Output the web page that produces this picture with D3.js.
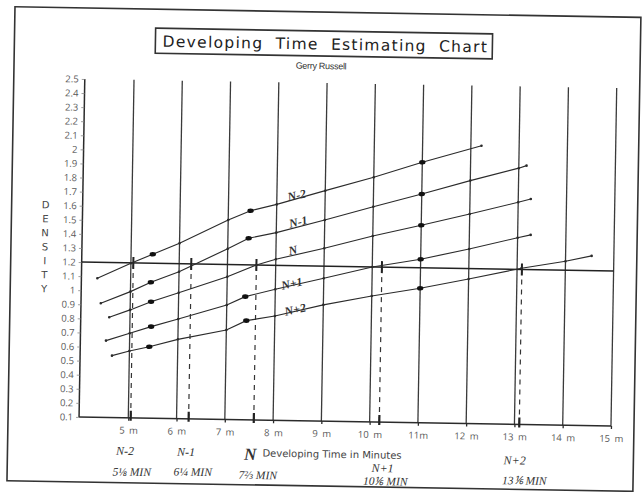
<!DOCTYPE html>
<html><head><meta charset="utf-8">
<script src="https://cdn.jsdelivr.net/npm/d3@7"></script>
<style>html,body{margin:0;padding:0;background:#fff;} svg{display:block}</style>
</head><body>
<svg id="c" width="642" height="492"></svg>
<script>
// ---------- data ----------
const minutes = [5, 6, 7, 8, 9, 10, 11, 12, 13, 14, 15];
const minuteLabels = ["5 m", "6 m", "7 m", "8 m", "9 m", "10 m", "11m", "12 m", "13 m", "14 m", "15 m"];
const densityTicks = [0.1,0.2,0.3,0.4,0.5,0.6,0.7,0.8,0.9,1.0,1.1,1.2,1.3,1.4,1.5,1.6,1.7,1.8,1.9,2.0,2.1,2.2,2.3,2.4,2.5];
const densityLabels = ["0.1","0.2","0.3","0.4","0.5","0.6","0.7","0.8","0.9","1","1.1","1.2","1.3","1.4","1.5","1.6","1.7","1.8","1.9","2","2.1","2.2","2.3","2.4","2.5"];
const seriesNames = ["N-2", "N-1", "N", "N+1", "N+2"];

const lineNm2 = [[4.31,1.087],[5,1.197],[5.45,1.264],[6,1.345],[7,1.516],[7.46,1.585],[8,1.633],[9,1.736],[10,1.837],[11,1.949],[12.22,2.074]];
const lineNm1 = [[4.39,0.91],[5,0.996],[5.42,1.065],[6,1.143],[7,1.312],[7.43,1.389],[8,1.432],[9,1.528],[10,1.628],[11,1.724],[12,1.825],[13,1.919],[13.16,1.938]];
const lineN   = [[4.57,0.811],[5,0.866],[5.43,0.927],[6,0.994],[7,1.113],[7.6,1.2],[8,1.243],[9,1.327],[10,1.42],[11,1.502],[12,1.588],[13,1.677],[13.26,1.702]];
const lineNp1 = [[4.51,0.645],[5,0.70],[5.44,0.75],[6,0.807],[7,0.912],[7.38,0.974],[8,1.03],[9,1.114],[10,1.2],[11,1.261],[12,1.339],[13,1.425],[13.27,1.447]];
const lineNp2 = [[4.64,0.539],[5,0.574],[5.41,0.607],[6,0.663],[7,0.735],[7.41,0.804],[8,0.84],[9,0.925],[10,0.994],[11,1.055],[12,1.126],[13.09,1.209],[14,1.264],[14.54,1.305]];

const keyNm2 = [[5.45,1.264],[7.46,1.585],[11,1.949]];
const keyNm1 = [[5.42,1.065],[7.43,1.389],[11,1.724]];
const keyN   = [[5.43,0.927],[11,1.502]];
const keyNp1 = [[5.44,0.75],[7.38,0.974],[11,1.261]];
const keyNp2 = [[5.41,0.607],[7.41,0.804],[11,1.055]];

const labelPos = [[8.41,1.702],[8.45,1.513],[8.35,1.311],[8.34,1.074],[8.42,0.890]];

const targetDensity = 1.2;
const crossMinutes = [5.05, 6.25, 7.6, 10.2, 13.1];
const crossNames = ["N-2", "N-1", "N", "N+1", "N+2"];
const crossTimes = ["5⅛ MIN", "6¼ MIN", "7⅔ MIN", "10⅙ MIN", "13⅙ MIN"];

const titleText = "Developing Time Estimating Chart";
const subtitleText = "Gerry Russell";
const xTitle = "Developing Time in Minutes";
const yTitle = "DENSITY";

// ---------- drawing ----------
const svg = d3.select("#c");
svg.append("rect").attr("width", 642).attr("height", 492).attr("fill", "#ffffff");
const g = svg.append("g").attr("transform", "rotate(0.97,320,245)");

const x = d3.scaleLinear().domain([3.98, 15]).range([82, 614]);
const y = d3.scaleLinear().domain([0.1, 2.5]).range([421, 83]);
const ink = "#2b2b2b";
const grey = "#5a5a5a";

// outer frame
g.append("rect").attr("x", 11).attr("y", 12).attr("width", 626).attr("height", 474)
  .attr("fill", "none").attr("stroke", "#333").attr("stroke-width", 1.6);

// title box
g.append("rect").attr("x", 152).attr("y", 31).attr("width", 337).attr("height", 25)
  .attr("fill", "none").attr("stroke", "#333").attr("stroke-width", 1.6);
g.append("text").attr("x", 322).attr("y", 49.5).attr("text-anchor", "middle")
  .attr("font-family", "DejaVu Sans, sans-serif").attr("font-size", 15.5)
  .attr("letter-spacing", 1.3).attr("word-spacing", 6).attr("fill", "#222").text(titleText);
g.append("text").attr("x", 318).attr("y", 69).attr("text-anchor", "middle")
  .attr("font-family", "Liberation Sans, Arial, sans-serif").attr("font-size", 9)
  .attr("letter-spacing", -0.3).attr("fill", "#333").text(subtitleText);

// vertical grid lines
g.append("g").selectAll("line").data(minutes).join("line")
  .attr("x1", d => x(d)).attr("x2", d => x(d))
  .attr("y1", y(2.5)).attr("y2", y(0.1))
  .attr("stroke", "#3a3a3a").attr("stroke-width", 1.3);

// y axis
const yAxis = d3.axisLeft(y).tickValues(densityTicks).tickSize(3)
  .tickFormat((d, i) => densityLabels[i]);
const ya = g.append("g").attr("transform", `translate(${x(3.98)},0)`).call(yAxis);
ya.select(".domain").attr("stroke", ink).attr("stroke-width", 1.5).attr("d", `M0,${y(2.5)}V${y(0.1)}`);
ya.selectAll(".tick line").attr("stroke", "#888").attr("stroke-width", 0.8);
ya.selectAll(".tick text").attr("font-family", "Open Sans, DejaVu Sans, sans-serif")
  .attr("font-size", 9.5).attr("fill", grey).attr("x", -6);

// x axis
const xAxis = d3.axisBottom(x).tickValues(minutes).tickSize(3)
  .tickFormat((d, i) => minuteLabels[i]);
const xa = g.append("g").attr("transform", `translate(0,${y(0.1)})`).call(xAxis);
xa.select(".domain").attr("stroke", ink).attr("stroke-width", 1.5).attr("d", `M${x(3.98)},0H${x(15)}`);
xa.selectAll(".tick line").attr("stroke", ink).attr("stroke-width", 1.3);
xa.selectAll(".tick text").attr("font-family", "Open Sans, DejaVu Sans, sans-serif")
  .attr("font-size", 9.5).attr("fill", grey).attr("dy", "1.05em").attr("word-spacing", 2);

// DENSITY vertical letters
g.append("g").selectAll("text").data(yTitle.split("")).join("text")
  .attr("x", 45).attr("y", (d, i) => 213 + i * 14).attr("text-anchor", "middle")
  .attr("font-family", "DejaVu Sans, sans-serif").attr("font-size", 10)
  .attr("fill", "#444").text(d => d);

// target density line
g.append("line").attr("x1", x(3.98)).attr("x2", x(15)).attr("y1", y(targetDensity)).attr("y2", y(targetDensity))
  .attr("stroke", "#222").attr("stroke-width", 1.6);

// dashed drop lines
g.append("g").selectAll("line").data(crossMinutes).join("line")
  .attr("x1", d => x(d)).attr("x2", d => x(d))
  .attr("y1", y(targetDensity)).attr("y2", y(0.1))
  .attr("stroke", "#333").attr("stroke-width", 1.2).attr("stroke-dasharray", "5,5");
// cross marks at target line and baseline
g.append("g").selectAll("line").data(crossMinutes).join("line")
  .attr("x1", d => x(d)).attr("x2", d => x(d))
  .attr("y1", y(targetDensity) - 6).attr("y2", y(targetDensity) + 6)
  .attr("stroke", "#222").attr("stroke-width", 2);
g.append("g").selectAll("line").data(crossMinutes).join("line")
  .attr("x1", d => x(d)).attr("x2", d => x(d))
  .attr("y1", y(0.1) - 7).attr("y2", y(0.1) + 3)
  .attr("stroke", "#222").attr("stroke-width", 2.2);

// series lines
const lines = [lineNm2, lineNm1, lineN, lineNp1, lineNp2];
const keys = [keyNm2, keyNm1, keyN, keyNp1, keyNp2];
const lineGen = d3.line().x(d => x(d[0])).y(d => y(d[1]));
const sg = g.append("g");
lines.forEach((pts, i) => {
  sg.append("path").attr("d", lineGen(pts)).attr("fill", "none")
    .attr("stroke", ink).attr("stroke-width", 1.15);
  sg.selectAll(null).data(pts).join("circle")
    .attr("cx", d => x(d[0])).attr("cy", d => y(d[1])).attr("r", 1.3).attr("fill", ink);
  sg.selectAll(null).data(keys[i]).join("ellipse")
    .attr("cx", d => x(d[0])).attr("cy", d => y(d[1])).attr("rx", 3.2).attr("ry", 2.3).attr("fill", "#111");
});

// series labels on lines
g.append("g").selectAll("text").data(seriesNames).join("text")
  .attr("transform", (d, i) => `translate(${x(labelPos[i][0])},${y(labelPos[i][1])}) rotate(-13)`)
  .attr("text-anchor", "middle").attr("dy", "0.35em")
  .attr("font-family", "Liberation Serif, serif").attr("font-style", "italic")
  .attr("font-size", 12).attr("font-weight", "bold").attr("fill", "#333").text(d => d);

// handwritten bottom labels
const nameOffsets = [[-5, 454], [-2, 454], [-3, 455], [4, 467], [-4, 457]];
const timeOffsets = [[2, 475], [5, 474], [5, 476], [7, 480], [6, 477]];
g.append("g").selectAll("text").data(crossNames).join("text")
  .attr("x", (d, i) => x(crossMinutes[i]) + nameOffsets[i][0]).attr("y", (d, i) => nameOffsets[i][1])
  .attr("text-anchor", "middle").attr("dy", "0.35em")
  .attr("font-family", "Liberation Serif, serif").attr("font-style", "italic")
  .attr("font-size", (d, i) => i === 2 ? 17 : 12).attr("font-weight", (d, i) => i === 2 ? "bold" : "normal")
  .attr("fill", "#333").text(d => d);
g.append("g").selectAll("text").data(crossTimes).join("text")
  .attr("x", (d, i) => x(crossMinutes[i]) + timeOffsets[i][0]).attr("y", (d, i) => timeOffsets[i][1])
  .attr("text-anchor", "middle").attr("dy", "0.35em")
  .attr("font-family", "Liberation Serif, serif").attr("font-style", "italic")
  .attr("font-size", 11.5).attr("fill", "#333").text(d => d);

// x title
g.append("text").attr("x", 266).attr("y", 454).attr("dy", "0.35em")
  .attr("font-family", "DejaVu Sans, sans-serif").attr("font-size", 10)
  .attr("fill", "#444").text(xTitle);
</script>
</body></html>
